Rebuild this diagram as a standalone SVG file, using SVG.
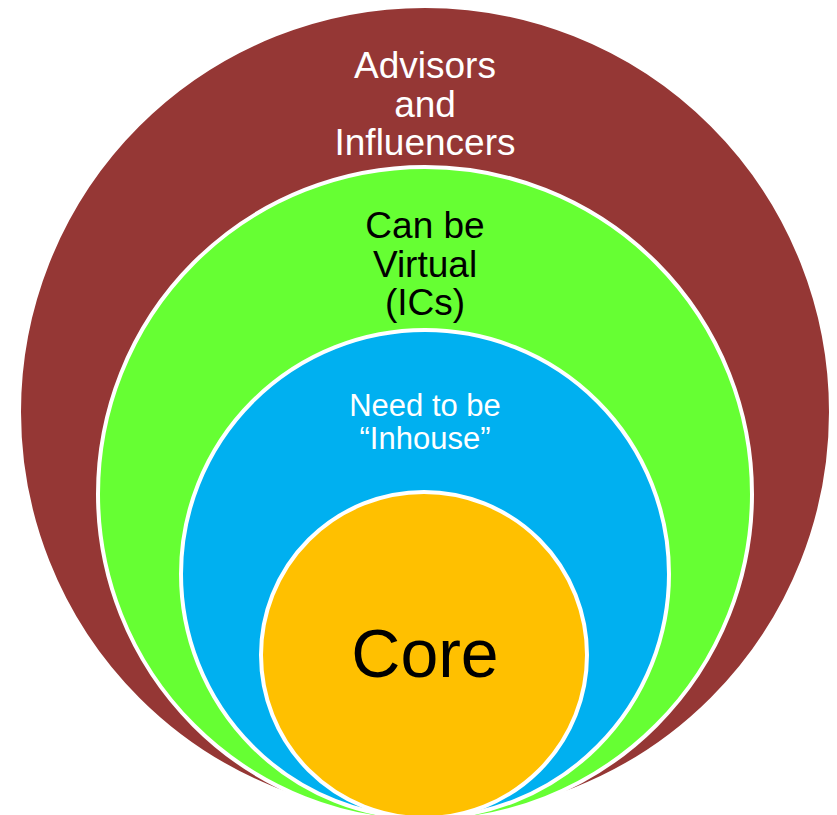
<svg xmlns="http://www.w3.org/2000/svg" width="837" height="815" viewBox="0 0 837 815">
<style>
.ring{stroke:#fff;stroke-width:4}
.t{font-family:"Liberation Sans",Arial,sans-serif;text-anchor:middle}
</style>
<rect width="837" height="815" fill="#fff"/>
<g id="advisors">
<circle class="ring" cx="425" cy="412" r="406" fill="#953735"/>
<text class="t" font-size="37" fill="#fff"><tspan x="425" y="78">Advisors</tspan><tspan x="425" y="117">and</tspan><tspan x="425" y="155">Influencers</tspan></text>
</g>
<g id="virtual">
<circle class="ring" cx="425" cy="494" r="327" fill="#66FF33"/>
<text class="t" font-size="37" fill="#000"><tspan x="425" y="238">Can be</tspan><tspan x="425" y="277">Virtual</tspan><tspan x="425" y="315">(ICs)</tspan></text>
</g>
<g id="inhouse">
<circle class="ring" cx="425" cy="574" r="244" fill="#00B0F0"/>
<text class="t" font-size="31" fill="#fff"><tspan x="425" y="416">Need to be</tspan><tspan x="425" y="449">“Inhouse”</tspan></text>
</g>
<g id="core">
<circle class="ring" cx="424" cy="655" r="163" fill="#FFC000"/>
<text class="t" x="425" y="677" font-size="68" fill="#000">Core</text>
</g>
<g id="connectors"/>
</svg>
